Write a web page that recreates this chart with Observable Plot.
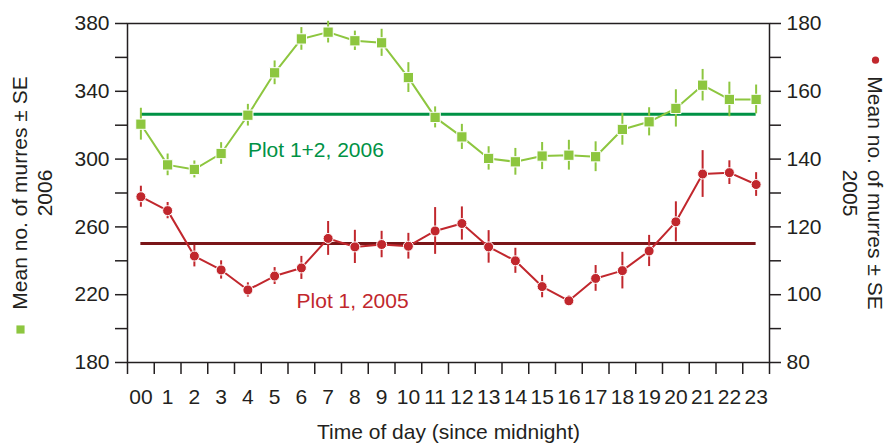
<!DOCTYPE html>
<html><head><meta charset="utf-8">
<script src="https://cdn.jsdelivr.net/npm/d3@7"></script>
<script src="https://cdn.jsdelivr.net/npm/@observablehq/plot@0.6"></script>
<style>body{margin:0;background:#fff;}</style>
</head><body><div id="chart"></div>
<script>
// ---- data ----
const hours = [0,1,2,3,4,5,6,7,8,9,10,11,12,13,14,15,16,17,18,19,20,21,22,23];
const hourLabels = ["00","1","2","3","4","5","6","7","8","9","10","11","12","13","14","15","16","17","18","19","20","21","22","23"];
const mean2006 = [320.6,296.6,293.9,303.3,325.9,350.9,370.9,374.9,369.8,368.6,348.1,324.6,313.1,300.4,298.4,301.8,302.3,301.4,317.5,322.0,329.9,343.6,335.2,335.2];
const se2006   = [9.4,6.4,5.0,6.4,6.4,7.0,6.7,6.4,5.7,8.0,8.8,6.2,7.4,6.9,7.9,8.0,8.8,8.8,9.3,8.3,11.0,9.3,10.2,8.5];
const mean2005 = [128.9,124.8,111.4,107.3,101.4,105.5,107.9,116.6,114.1,114.8,114.3,118.8,121.0,114.1,110.0,102.4,98.2,104.8,107.1,112.9,121.5,135.6,136.0,132.5];
const se2005   = [3.1,2.4,3.2,2.7,2.1,2.5,3.4,5.0,4.9,3.9,3.8,6.9,4.9,4.8,3.7,3.3,1.5,3.8,5.4,4.6,5.9,6.9,3.5,3.5];
const overall2006 = 326.5;
const overall2005 = 115.1;
const leftTicks = [180,200,220,240,260,280,300,320,340,360,380];
const leftLabels = [180,220,260,300,340,380];
const rightTicks = [80,90,100,110,120,130,140,150,160,170,180];
const rightLabels = [80,100,120,140,160,180];
const boundaries = [-0.5,0.5,1.5,2.5,3.5,4.5,5.5,6.5,7.5,8.5,9.5,10.5,11.5,12.5,13.5,14.5,15.5,16.5,17.5,18.5,19.5,20.5,21.5,22.5,23.5];
const label2006 = "Plot 1+2, 2006";
const label2005 = "Plot 1, 2005";
const yTitle = "Mean no. of murres ± SE";
const xTitle = "Time of day (since midnight)";

// right axis (2005) maps linearly onto left axis (2006): 80->180, 180->380
const toLeft = v => 180 + (v - 80) * 2;

const green = hours.map((h,i)=>({h, v: mean2006[i], lo: mean2006[i]-se2006[i], hi: mean2006[i]+se2006[i]}));
const red = hours.map((h,i)=>({h, v: toLeft(mean2005[i]), lo: toLeft(mean2005[i]-se2005[i]), hi: toLeft(mean2005[i]+se2005[i])}));

const ink = "#231F20";
const gLight = "#8DC63F", gDark = "#009245", rMain = "#C1272D", rDark = "#7A1518";
const FS = 21;

const chart = Plot.plot({
  width: 887, height: 443,
  marginLeft: 127, marginRight: 118, marginTop: 23, marginBottom: 81,
  style: {fontFamily: "'Liberation Sans', Arial, Helvetica, sans-serif", fontSize: FS + "px", color: ink, background: "#fff"},
  x: {domain: [-0.5, 23.5], axis: null},
  y: {domain: [180, 380], axis: null},
  marks: [
    // axes
    Plot.axisY(leftTicks, {anchor: "left", label: null, tickSize: 12, tickPadding: 6, stroke: ink, strokeWidth: 1.5, fill: ink,
      tickFormat: d => leftLabels.includes(d) ? String(d) : ""}),
    Plot.axisY(rightTicks.map(toLeft), {anchor: "right", label: null, tickSize: 11, tickPadding: 6, stroke: ink, strokeWidth: 1.5, fill: ink,
      tickFormat: d => { const v = (d - 180) / 2 + 80; return rightLabels.includes(v) ? String(v) : ""; }}),
    Plot.axisX(boundaries, {anchor: "bottom", label: null, tickSize: 12, stroke: ink, strokeWidth: 1.5, tickFormat: () => ""}),
    Plot.axisX(hours, {anchor: "bottom", label: null, tickSize: 0, tickPadding: 27, fill: ink, tickFormat: d => hourLabels[d]}),
    Plot.frame({stroke: ink, strokeWidth: 1.5}),
    // overall means
    Plot.ruleY([overall2006], {x1: 0, x2: 23, stroke: gDark, strokeWidth: 3}),
    Plot.ruleY([toLeft(overall2005)], {x1: 0, x2: 23, stroke: rDark, strokeWidth: 3}),
    // 2006 series
    Plot.line(green, {x: "h", y: "v", stroke: gLight, strokeWidth: 2}),
    Plot.ruleX(green, {x: "h", y1: "lo", y2: "hi", stroke: gLight, strokeWidth: 2}),
    Plot.dot(green, {x: "h", y: "v", symbol: "square", r: 5.8, fill: gLight, stroke: "#fff", strokeWidth: 1}),
    // 2005 series
    Plot.line(red, {x: "h", y: "v", stroke: rMain, strokeWidth: 2}),
    Plot.ruleX(red, {x: "h", y1: "lo", y2: "hi", stroke: rMain, strokeWidth: 2}),
    Plot.dot(red, {x: "h", y: "v", r: 5, fill: rMain, stroke: "#fff", strokeWidth: 1}),
    // in-plot labels
    Plot.text([label2006], {x: 4, y: 305, textAnchor: "start", fill: gDark, fontSize: FS}),
    Plot.text([label2005], {x: 5.82, y: 216, textAnchor: "start", fill: rMain, fontSize: FS}),
    // axis titles
    Plot.text([xTitle], {frameAnchor: "bottom", dy: 76, fill: ink, fontSize: FS}),
    Plot.text([yTitle], {frameAnchor: "left", dx: -107, rotate: -90, textAnchor: "middle", fill: ink, fontSize: FS}),
    Plot.text(["2006"], {frameAnchor: "left", dx: -82, rotate: -90, textAnchor: "middle", fill: ink, fontSize: FS}),
    Plot.dot([0], {frameAnchor: "left", dx: -107, dy: 136.5, symbol: "square", r: 4.6, fill: gLight}),
    Plot.text([yTitle], {frameAnchor: "right", dx: 105, rotate: 90, textAnchor: "middle", fill: ink, fontSize: FS}),
    Plot.text(["2005"], {frameAnchor: "right", dx: 80, rotate: 90, textAnchor: "middle", fill: ink, fontSize: FS}),
    Plot.dot([0], {frameAnchor: "right", dx: 106, dy: -132.8, r: 3.6, fill: rMain})
  ]
});
document.getElementById("chart").appendChild(chart);
</script>
</body></html>
